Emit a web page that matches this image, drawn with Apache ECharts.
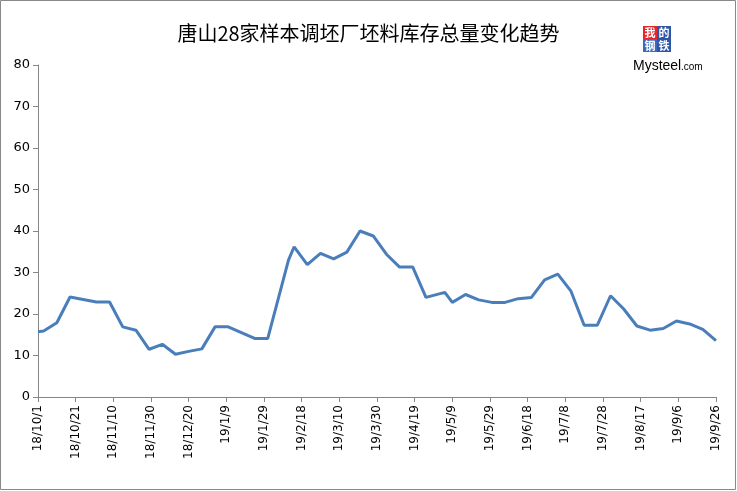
<!DOCTYPE html>
<html>
<head>
<meta charset="utf-8">
<script src="https://cdn.jsdelivr.net/npm/echarts@6/dist/echarts.min.js"></script>
<style>
html,body{margin:0;padding:0;background:#fff;}
#chart{width:737px;height:491px;}
</style>
</head>
<body>
<div id="chart"></div>
<script>
// Data
var title = '唐山28家样本调坯厂坯料库存总量变化趋势';
var dates = ['18/10/1','18/10/4','18/10/11','18/10/18','18/10/25','18/11/1','18/11/8','18/11/15','18/11/22','18/11/29',
  '18/12/6','18/12/13','18/12/20','18/12/27','19/1/3','19/1/10','19/1/17','19/1/24','19/1/31','19/2/11',
  '19/2/14','19/2/21','19/2/28','19/3/7','19/3/14','19/3/21','19/3/28','19/4/4','19/4/11','19/4/18',
  '19/4/25','19/5/5','19/5/9','19/5/16','19/5/23','19/5/30','19/6/6','19/6/13','19/6/20','19/6/27',
  '19/7/4','19/7/11','19/7/18','19/7/25','19/8/1','19/8/8','19/8/15','19/8/22','19/8/29','19/9/5',
  '19/9/12','19/9/19','19/9/26'];
var values = [15.7,15.9,17.9,24.1,23.5,22.9,22.9,16.9,16.1,11.5,
  12.7,10.3,11.0,11.6,16.9,16.9,15.5,14.1,14.1,33.0,
  36.2,31.9,34.6,33.3,34.9,40.0,38.8,34.4,31.3,31.3,
  24.0,25.2,22.8,24.7,23.4,22.8,22.8,23.7,24.0,28.2,
  29.6,25.5,17.3,17.3,24.4,21.2,17.1,16.1,16.5,18.3,
  17.6,16.3,13.6];
var startDate = '18/10/1';
var endDate = '19/9/26';
var dayStep = 20;
var yMin = 0, yMax = 80, yStep = 10;

function toMs(s){
  var p = s.split('/');
  return Date.UTC(2000 + parseInt(p[0],10), parseInt(p[1],10) - 1, parseInt(p[2],10));
}
var DAY = 86400000;
var base = toMs(startDate);
var span = Math.round((toMs(endDate) - base) / DAY);
function dayOf(s){ return Math.round((toMs(s) - base) / DAY); }
function labelOf(d){
  var dt = new Date(base + d * DAY);
  return (dt.getUTCFullYear() % 100) + '/' + (dt.getUTCMonth() + 1) + '/' + dt.getUTCDate();
}
var seriesData = dates.map(function(d, i){ return [dayOf(d), values[i]]; });

var chart = echarts.init(document.getElementById('chart'));
chart.setOption({
  animation: false,
  backgroundColor: '#fff',
  title: {
    text: title,
    left: 'center',
    top: 18,
    textStyle: {fontFamily: 'Noto Sans CJK SC', fontSize: 20, fontWeight: 'normal', color: '#000'}
  },
  grid: {left: 38, right: 21, top: 65, bottom: 94, containLabel: false},
  xAxis: {
    type: 'value',
    min: 0, max: span, interval: dayStep,
    axisLine: {show: true, lineStyle: {color: '#868686', width: 1}},
    axisTick: {show: true, length: 5, lineStyle: {color: '#868686'}},
    splitLine: {show: false},
    axisLabel: {
      rotate: 90, margin: 8,
      fontFamily: 'DejaVu Sans', fontSize: 12, color: '#000',
      showMaxLabel: true, showMinLabel: true,
      formatter: function(v){ return labelOf(v); }
    }
  },
  yAxis: {
    type: 'value',
    min: yMin, max: yMax, interval: yStep,
    axisLine: {show: true, lineStyle: {color: '#868686', width: 1}},
    axisTick: {show: true, length: 5, lineStyle: {color: '#868686'}},
    splitLine: {show: false},
    axisLabel: {fontFamily: 'DejaVu Sans', fontSize: 13, color: '#000', margin: 8}
  },
  series: [{
    type: 'line',
    data: seriesData,
    showSymbol: false,
    symbol: 'none',
    lineStyle: {color: '#4A7EBB', width: 3},
    itemStyle: {color: '#4A7EBB'}
  }],
  graphic: [
    {type: 'rect', shape: {x: 0.5, y: 0.5, width: 735, height: 489}, style: {fill: 'none', stroke: '#888', lineWidth: 1}, silent: true},
    {type: 'rect', shape: {x: 643, y: 26, width: 14, height: 13}, style: {fill: '#E8262A'}},
    {type: 'rect', shape: {x: 657, y: 26, width: 14, height: 13}, style: {fill: '#2F56A6'}},
    {type: 'rect', shape: {x: 643, y: 39, width: 14, height: 13}, style: {fill: '#3A6BC0'}},
    {type: 'rect', shape: {x: 657, y: 39, width: 14, height: 13}, style: {fill: '#2F56A6'}},
    {type: 'text', style: {text: '我', x: 650, y: 32.5, align: 'center', verticalAlign: 'middle', fill: '#fff', font: 'bold 11px "Noto Sans CJK SC"'}},
    {type: 'text', style: {text: '的', x: 664, y: 32.5, align: 'center', verticalAlign: 'middle', fill: '#fff', font: 'bold 11px "Noto Sans CJK SC"'}},
    {type: 'text', style: {text: '钢', x: 650, y: 45.5, align: 'center', verticalAlign: 'middle', fill: '#fff', font: 'bold 11px "Noto Sans CJK SC"'}},
    {type: 'text', style: {text: '铁', x: 664, y: 45.5, align: 'center', verticalAlign: 'middle', fill: '#fff', font: 'bold 11px "Noto Sans CJK SC"'}},
    {type: 'text', style: {text: 'Mysteel', x: 633, y: 66, align: 'left', verticalAlign: 'middle', fill: '#000', font: '14px "Liberation Sans"'}},
    {type: 'text', style: {text: '.com', x: 681, y: 67, align: 'left', verticalAlign: 'middle', fill: '#000', font: '10px "Liberation Sans"'}}
  ]
});
</script>
</body>
</html>
